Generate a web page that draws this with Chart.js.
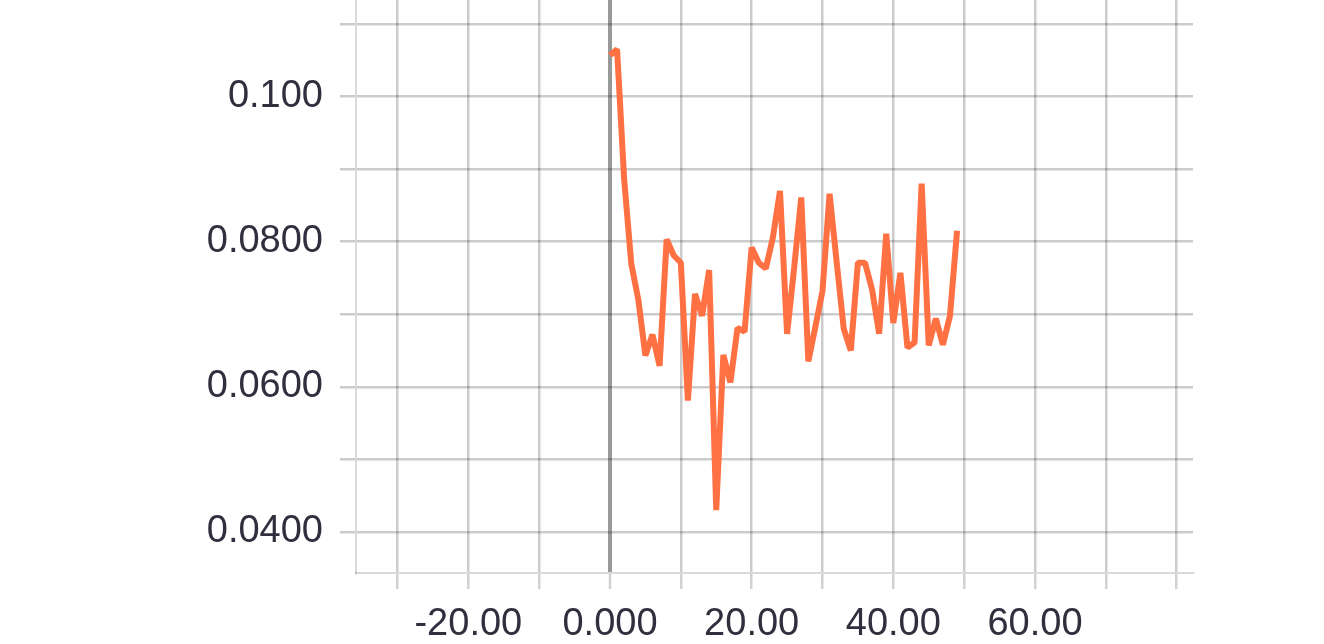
<!DOCTYPE html>
<html>
<head>
<meta charset="utf-8">
<script src="https://cdn.jsdelivr.net/npm/chart.js@4/dist/chart.umd.min.js"></script>
<style>
  html, body { margin: 0; padding: 0; background: #ffffff; }
  #wrap { width: 1324px; height: 644px; position: relative; }
</style>
</head>
<body>
<div id="wrap"><canvas id="c" width="1324" height="644"></canvas></div>
<script>
// ---- data ----
const xValues = [0,1,2,3,4,5,6,7,8,9,10,11,12,13,14,15,16,17,18,19,20,21,22,23,24,25,26,27,28,29,30,31,32,33,34,35,36,37,38,39,40,41,42,43,44,45,46,47,48,49];
const yValues = [0.1057,0.1065,0.0886,0.0770,0.0720,0.0643,0.0672,0.0629,0.0803,0.0781,0.0771,0.0581,0.0728,0.0698,0.0761,0.0430,0.0644,0.0606,0.0681,0.0676,0.0792,0.0771,0.0763,0.0806,0.0870,0.0673,0.0764,0.0861,0.0635,0.0683,0.0732,0.0866,0.0772,0.0680,0.0650,0.0771,0.0771,0.0734,0.0673,0.0811,0.0688,0.0757,0.0654,0.0661,0.0880,0.0657,0.0694,0.0658,0.0698,0.0815];
const xTicks = [-30,-20,-10,0,10,20,30,40,50,60,70,80];
const xTickLabels = {"-20":"-20.00","0":"0.000","20":"20.00","40":"40.00","60":"60.00"};
const yTicks = [0.04,0.05,0.06,0.07,0.08,0.09,0.10,0.11];
const yTickLabels = {"0.04":"0.0400","0.06":"0.0600","0.08":"0.0800","0.1":"0.100"};
const xRange = [-35.86, 82.31];
const yRange = [0.03434, 0.11331];

const points = xValues.map((x, i) => ({x: x, y: yValues[i]}));
const textColor = '#2f2f3e';
const gridColor = 'rgba(0,0,0,0.2)';
const zeroColor = 'rgba(0,0,0,0.4)';
const tickMarkColor = 'rgba(0,0,0,0.18)';
const font = {family: '"Liberation Sans", Arial, sans-serif', size: 38};

new Chart(document.getElementById('c'), {
  type: 'line',
  data: {
    datasets: [{
      data: points,
      borderColor: '#ff7043',
      backgroundColor: '#ff7043',
      borderWidth: 6,
      borderJoinStyle: 'bevel',
      pointRadius: 0,
      pointHoverRadius: 0,
      tension: 0,
      fill: false
    }]
  },
  options: {
    responsive: false,
    animation: false,
    events: [],
    layout: { padding: { left: 0, right: 131, top: 0, bottom: 0 } },
    plugins: { legend: { display: false }, tooltip: { enabled: false } },
    scales: {
      x: {
        type: 'linear',
        min: xRange[0],
        max: xRange[1],
        afterBuildTicks: (s) => { s.ticks = xTicks.map(v => ({value: v})); },
        afterFit: (s) => { s.height = 71; s.paddingLeft = 0; s.paddingRight = 0; },
        ticks: {
          autoSkip: false,
          maxRotation: 0,
          minRotation: 0,
          padding: 13,
          color: textColor,
          font: font,
          callback: (v) => { const k = String(Math.round(v)); return xTickLabels[k] !== undefined ? xTickLabels[k] : ''; }
        },
        grid: {
          color: (ctx) => (ctx.tick && ctx.tick.value === 0) ? zeroColor : gridColor,
          lineWidth: (ctx) => (ctx.tick && ctx.tick.value === 0) ? 4 : 2.5,
          tickColor: tickMarkColor,
          tickWidth: 2.5,
          tickLength: 16,
          drawTicks: true
        },
        border: { display: true, color: 'rgba(0,0,0,0.15)', width: 2 }
      },
      y: {
        type: 'linear',
        min: yRange[0],
        max: yRange[1],
        afterBuildTicks: (s) => { s.ticks = yTicks.map(v => ({value: v})); },
        afterFit: (s) => { s.width = 356; s.paddingTop = 0; s.paddingBottom = 0; },
        ticks: {
          autoSkip: false,
          padding: 17,
          color: textColor,
          font: font,
          callback: (v) => { const k = String(Math.round(v * 100) / 100); return yTickLabels[k] !== undefined ? yTickLabels[k] : ''; }
        },
        grid: {
          color: gridColor,
          lineWidth: 2.5,
          tickColor: gridColor,
          tickWidth: 2.5,
          tickLength: 16,
          drawTicks: true
        },
        border: { display: true, color: 'rgba(0,0,0,0.15)', width: 2 }
      }
    }
  }
});
</script>
</body>
</html>
